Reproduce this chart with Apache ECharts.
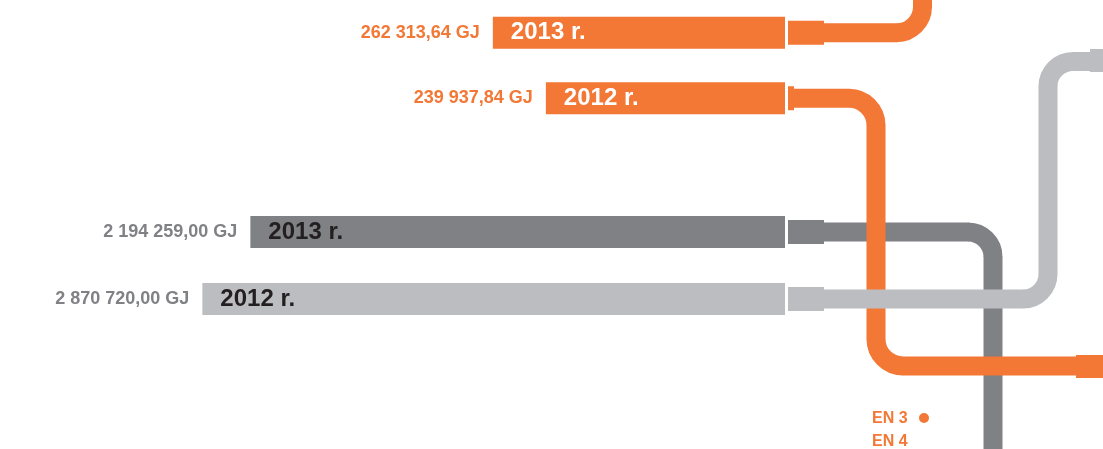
<!DOCTYPE html>
<html>
<head>
<meta charset="utf-8">
<script src="https://cdn.jsdelivr.net/npm/echarts@6/dist/echarts.min.js"></script>
<style>
html, body { margin: 0; padding: 0; background: #fff; }
#chart { width: 1103px; height: 449px; }
</style>
</head>
<body>
<div id="chart"></div>
<script>
// energy use, GJ (orange: EN 4 group, grey: EN 3 group)
const years = ['2013 r.', '2012 r.'];
const orangeGJ = [262313.64, 239937.84];
const greyGJ = [2194259.00, 2870720.00];
const greyColors = ['#808184', '#bcbdc0'];
const enLabels = ['EN 3', 'EN 4'];

const ORANGE = '#f37735';
const FONT = 'Liberation Sans, Arial, sans-serif';

// "262 313,64 GJ"
const fmtGJ = v => {
  const [i, d] = v.toFixed(2).split('.');
  return i.replace(/\B(?=(\d{3})+(?!\d))/g, ' ') + ',' + d + ' GJ';
};

const valueBar = (axis, values, colors, labelColor) => ({
  type: 'bar',
  xAxisIndex: axis,
  yAxisIndex: axis,
  barWidth: 32,
  clip: true,
  silent: true,
  data: values.map((v, i) => ({ value: v, itemStyle: { color: colors[i] } })),
  label: {
    show: true,
    position: 'left',
    distance: 13,
    color: labelColor,
    fontFamily: FONT,
    fontWeight: 'bold',
    fontSize: 18,
    formatter: p => fmtGJ(p.value)
  }
});

const yearBar = (axis, values, labelColor) => ({
  type: 'bar',
  xAxisIndex: axis,
  yAxisIndex: axis,
  barWidth: 32,
  barGap: '-100%',
  clip: true,
  silent: true,
  data: values,
  itemStyle: { color: 'rgba(0,0,0,0)' },
  label: {
    show: true,
    position: 'insideLeft',
    distance: 18,
    color: labelColor,
    fontFamily: FONT,
    fontWeight: 'bold',
    fontSize: 24,
    formatter: p => years[p.dataIndex]
  }
});

const option = {
  animation: false,
  grid: [
    { left: 413, right: 318, top: -6, height: 137 },
    { left: 194.5, right: 318, top: 198.5, height: 134 }
  ],
  xAxis: [
    { gridIndex: 0, type: 'log', inverse: true, min: 160500, max: 300000, show: false },
    { gridIndex: 1, type: 'log', inverse: true, min: 110000, max: 3000000, show: false }
  ],
  yAxis: [
    { gridIndex: 0, type: 'category', inverse: true, data: years, show: false },
    { gridIndex: 1, type: 'category', inverse: true, data: years, show: false }
  ],
  series: [
    valueBar(0, orangeGJ, [ORANGE, ORANGE], ORANGE),
    yearBar(0, orangeGJ, '#ffffff'),
    valueBar(1, greyGJ, greyColors, '#808184'),
    yearBar(1, greyGJ, '#231f20')
  ]
};

const chart = echarts.init(document.getElementById('chart'));
chart.setOption(option);

// pipes: straight runs joined by quarter arcs
function pipe(pts, r, color, z) {
  const els = [];
  const st = { stroke: color, lineWidth: 19, fill: null };
  const dir = (a, b) => {
    const dx = b[0] - a[0], dy = b[1] - a[1], len = Math.hypot(dx, dy);
    return [dx / len, dy / len];
  };
  for (let i = 0; i < pts.length - 1; i++) {
    const d = dir(pts[i], pts[i + 1]);
    const s = i > 0 ? r - 0.5 : 0;
    const e = i < pts.length - 2 ? r - 0.5 : 0;
    els.push({
      type: 'line', z: z, silent: true,
      shape: {
        x1: pts[i][0] + d[0] * s, y1: pts[i][1] + d[1] * s,
        x2: pts[i + 1][0] - d[0] * e, y2: pts[i + 1][1] - d[1] * e
      },
      style: st
    });
  }
  for (let i = 1; i < pts.length - 1; i++) {
    const d1 = dir(pts[i - 1], pts[i]);
    const d2 = dir(pts[i], pts[i + 1]);
    const c = pts[i];
    els.push({
      type: 'arc', z: z, silent: true,
      shape: {
        cx: c[0] - r * d1[0] + r * d2[0],
        cy: c[1] - r * d1[1] + r * d2[1],
        r: r,
        startAngle: Math.atan2(-d2[1], -d2[0]),
        endAngle: Math.atan2(d1[1], d1[0]),
        clockwise: d1[0] * d2[1] - d1[1] * d2[0] > 0
      },
      style: st
    });
  }
  return els;
}

const flange = (x, y, w, h, color, z) => ({
  type: 'rect', z: z, silent: true,
  shape: { x: x, y: y - h / 2, width: w, height: h },
  style: { fill: color }
});

const xEnd = chart.convertToPixel({ xAxisIndex: 0 }, 160500);
const yO13 = chart.convertToPixel({ yAxisIndex: 0 }, years[0]);
const yO12 = chart.convertToPixel({ yAxisIndex: 0 }, years[1]);
const yG13 = chart.convertToPixel({ yAxisIndex: 1 }, years[0]);
const yG12 = chart.convertToPixel({ yAxisIndex: 1 }, years[1]);
const x0 = xEnd + 3;

const graphic = [].concat(
  // dark grey (bottom layer)
  flange(x0, yG13, 36, 24, greyColors[0], 10),
  pipe([[x0 + 36, yG13], [993, yG13], [993, 480]], 25, greyColors[0], 10),
  // orange 2013
  flange(x0, yO13, 36, 24, ORANGE, 11),
  pipe([[x0 + 36, yO13], [922.5, yO13], [922.5, -30]], 26, ORANGE, 11),
  // orange 2012
  flange(x0, yO12, 6, 24, ORANGE, 12),
  pipe([[x0 + 6, yO12], [876, yO12], [876, 366], [1110, 366]], 27, ORANGE, 12),
  flange(1076, 366.5, 30, 23, ORANGE, 12),
  // light grey 2012 (top layer)
  flange(x0, yG12, 36, 24, greyColors[1], 13),
  pipe([[x0 + 36, yG12], [1048, yG12], [1048, 61.5], [1110, 61.5]], 25, greyColors[1], 13),
  flange(1090, 60.5, 16, 23, greyColors[1], 13),
  // EN labels
  enLabels.map((t, i) => ({
    type: 'text', z: 14, silent: true,
    style: {
      text: t, x: 872, y: 419 + i * 23,
      fill: ORANGE, font: 'bold 16px ' + FONT,
      textVerticalAlign: 'middle'
    }
  })),
  { type: 'circle', z: 14, silent: true, shape: { cx: 924, cy: 418, r: 5 }, style: { fill: ORANGE } }
);

chart.setOption({ graphic: graphic });
window.addEventListener('resize', () => chart.resize());
</script>
</body>
</html>
